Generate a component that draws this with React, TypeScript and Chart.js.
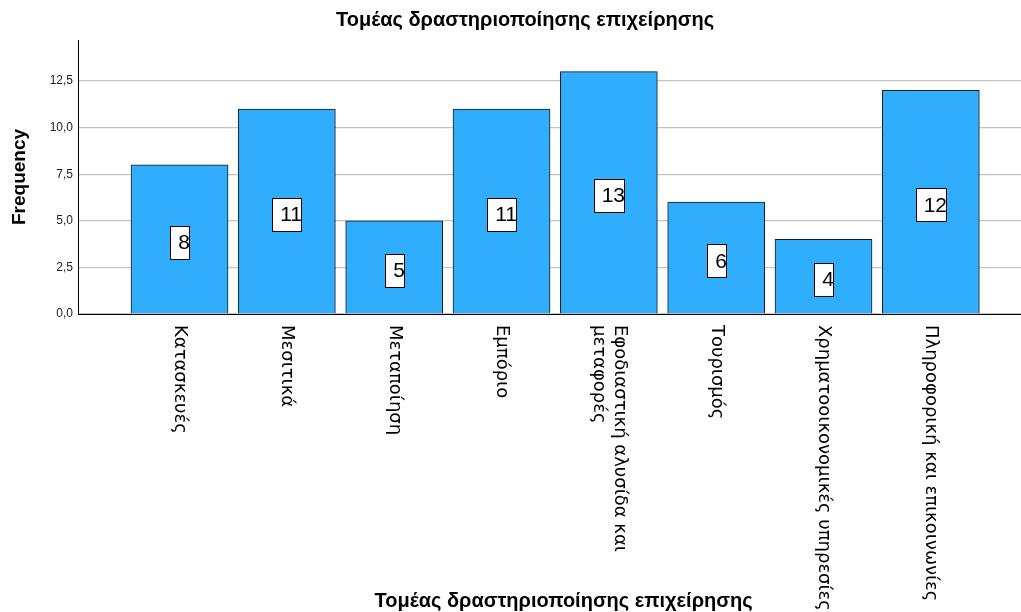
import React, { useEffect, useRef } from "react";
import { Chart, registerables } from "chart.js";

Chart.register(...registerables);

const chartTitle = "Τομέας δραστηριοποίησης επιχείρησης";
const xAxisTitle = "Τομέας δραστηριοποίησης επιχείρησης";
const yAxisTitle = "Frequency";
const categories = [
  "Κατασκευές",
  "Μεσιτικά",
  "Μεταποίηση",
  "Εμπόριο",
  "Εφοδιαστική αλυσίδα και μεταφορές",
  "Τουρισμός",
  "Χρηματοοικονομικές υπηρεσίες",
  "Πληροφορική και επικοινωνίες",
];
const frequencies = [8, 11, 5, 11, 13, 6, 4, 12];
const yTickStep = 2.5;
const yMax = 14.7;

const BAR_COLOR = "#31adfe";
const LABEL_FONT = "18px 'DejaVu Sans'";

function wrap(ctx: CanvasRenderingContext2D, text: string, maxW: number): string[] {
  const words = text.split(" ");
  const lines: string[] = [];
  let cur = "";
  for (const w of words) {
    const t = cur ? cur + " " + w : w;
    if (ctx.measureText(t).width > maxW && cur) {
      lines.push(cur);
      cur = w;
    } else cur = t;
  }
  if (cur) lines.push(cur);
  return lines;
}

const customDraw = {
  id: "customDraw",
  afterDatasetsDraw(chart: any) {
    const ctx: CanvasRenderingContext2D = chart.ctx;
    const meta = chart.getDatasetMeta(0);
    const xs = chart.scales.x;
    // value labels
    ctx.save();
    ctx.font = "21px 'Liberation Sans', Arial";
    meta.data.forEach((el: any, i: number) => {
      const txt = String(frequencies[i]);
      const tw = ctx.measureText(txt).width;
      const bw = Math.round(tw + 7);
      const bh = 33;
      const cx = el.x;
      const cy = (el.y + el.base) / 2 + 3;
      const bx = Math.round(cx - bw / 2);
      const by = Math.round(cy - bh / 2);
      ctx.fillStyle = "#ffffff";
      ctx.fillRect(bx, by, bw, bh);
      ctx.strokeStyle = "#000";
      ctx.lineWidth = 1;
      ctx.strokeRect(bx + 0.5, by + 0.5, bw, bh);
      ctx.fillStyle = "#000";
      ctx.textAlign = "right";
      ctx.textBaseline = "middle";
      ctx.fillText(txt, bx + bw + 1, cy + 1);
    });
    ctx.restore();

    // category labels, rotated clockwise
    ctx.save();
    ctx.font = LABEL_FONT;
    ctx.fillStyle = "#000";
    const lh = 21;
    categories.forEach((c, i) => {
      const px = xs.getPixelForValue(i);
      const lines = wrap(ctx, c, 300);
      ctx.save();
      ctx.translate(px, chart.chartArea.bottom + 11);
      ctx.rotate(Math.PI / 2);
      ctx.textAlign = "left";
      ctx.textBaseline = "middle";
      lines.forEach((ln, j) => {
        ctx.fillText(ln, 0, (j - (lines.length - 1) / 2) * lh);
      });
      ctx.restore();
    });
    ctx.restore();

    // titles
    ctx.save();
    ctx.fillStyle = "#000";
    ctx.font = "bold 20px 'Liberation Sans', Arial";
    ctx.textAlign = "center";
    ctx.textBaseline = "middle";
    ctx.fillText(chartTitle, 525, 20);
    const ca = chart.chartArea;
    ctx.fillText(xAxisTitle, (ca.left + ca.right) / 2 + 14, 601);
    ctx.restore();
  },
};

export default function App() {
  const ref = useRef<HTMLCanvasElement>(null);
  useEffect(() => {
    document.body.style.margin = "0";
    const canvas = ref.current!;
    const chart = new Chart(canvas, {
      type: "bar",
      data: {
        datasets: [
          {
            data: frequencies.map((v, i) => ({ x: i, y: v })),
            backgroundColor: BAR_COLOR,
            borderColor: "#1a1a1a",
            borderWidth: 1,
            barThickness: 97,
          },
        ],
      },
      options: {
        animation: false,
        responsive: false,
        maintainAspectRatio: false,
        layout: { padding: { top: 40, left: 0, right: 0, bottom: 0 } },
        plugins: { legend: { display: false }, tooltip: { enabled: false }, title: { display: false } },
        scales: {
          x: {
            type: "linear",
            min: -0.946,
            max: 7.84,
            offset: false,
            grid: { display: false, offset: false },
            border: { display: true, color: "#000", width: 1 },
            ticks: { display: false },
            afterFit: (s: any) => {
              s.height = 298;
            },
          },
          y: {
            min: 0,
            max: yMax,
            grid: { color: "#c4c4c4", lineWidth: 1.3, drawTicks: false },
            border: { display: true, color: "#000", width: 1 },
            ticks: {
              stepSize: yTickStep,
              includeBounds: false,
              padding: 5,
              color: "#222",
              font: { family: "'Liberation Sans', Arial", size: 12 },
              callback: (v: any) => Number(v).toFixed(1).replace(".", ","),
            },
            title: {
              display: true,
              text: yAxisTitle,
              color: "#000",
              font: { family: "'Liberation Sans', Arial", size: 19, weight: "bold" },
              padding: { top: 8, bottom: 0 },
            },
            afterFit: (s: any) => {
              s.width = 78;
            },
          },
        },
      },
      plugins: [customDraw],
    });
    return () => chart.destroy();
  }, []);
  return (
    <div style={{ width: 1021, height: 612 }}>
      <canvas ref={ref} width={1021} height={612} />
    </div>
  );
}
